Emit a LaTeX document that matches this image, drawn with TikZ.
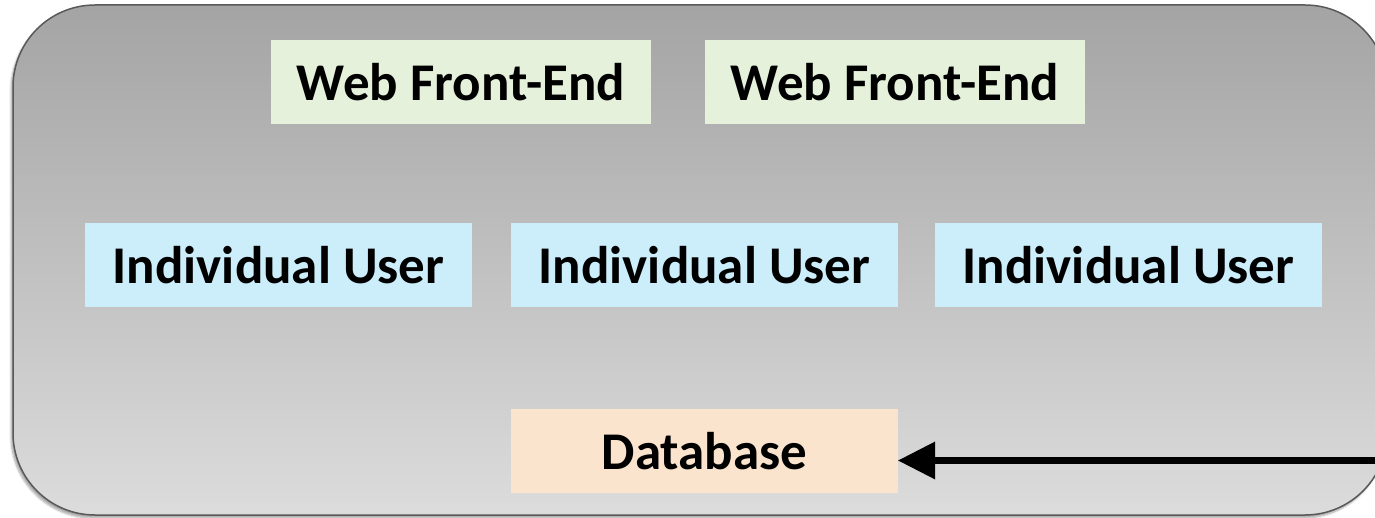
\documentclass[tikz,border=0pt]{standalone}
\usepackage{fontspec}
\setmainfont{Carlito}
\usetikzlibrary{arrows.meta,shadows.blur}
\definecolor{frontgreen}{RGB}{229,241,218}
\definecolor{userblue}{RGB}{204,238,251}
\definecolor{dbpeach}{RGB}{251,228,206}
\definecolor{paneltop}{RGB}{164,164,164}
\definecolor{panelbottom}{RGB}{220,220,220}
\definecolor{paneledge}{RGB}{89,89,89}
\tikzset{
  tier/.style={minimum height=84pt, inner sep=0pt, font=\fontsize{53}{60}\selectfont\bfseries, text=black},
  frontbox/.style={tier, fill=frontgreen, minimum width=380pt},
  userbox/.style={tier, fill=userblue, minimum width=387pt},
  dbbox/.style={tier, fill=dbpeach, minimum width=387pt},
  feed/.style={line width=7pt, -{Triangle[length=37pt, width=38pt, line width=0pt, fill=black]}}
}
\begin{document}
\begin{tikzpicture}[x=1pt, y=-1pt]
\useasboundingbox (0,0) rectangle (1375,518);
\begin{scope}
\clip (0,0) rectangle (1375,518);
% rounded panel holding every tier
\path[blur shadow={shadow xshift=-2pt, shadow yshift=-3pt, shadow blur steps=6, shadow opacity=35},
      top color=paneltop, bottom color=panelbottom, draw=paneledge, line width=1.5pt, rounded corners=82pt]
  (13,5) rectangle (1387,515);

\node[frontbox] (fe1) at (461,82.5) {Web Front-End};
\node[frontbox] (fe2) at (895,82.5) {Web Front-End};

\node[userbox] (u1) at (278.5,265) {Individual User};
\node[userbox] (u2) at (704.5,265) {Individual User};
\node[userbox] (u3) at (1128.5,265) {Individual User};

\node[dbbox] (db) at (704.5,451) {Database};

\coordinate (src) at (1400,460.5);
\draw[feed] (src) -- (db.east |- src);
\end{scope}
\end{tikzpicture}
\end{document}
